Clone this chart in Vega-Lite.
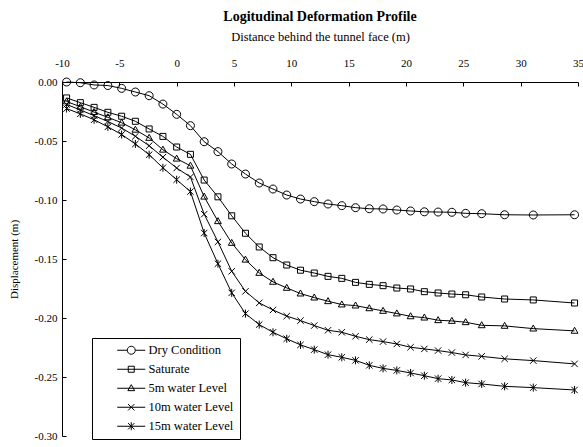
{
  "$schema": "https://vega.github.io/schema/vega-lite/v6.json",
  "width": 516,
  "height": 354,
  "autosize": "none",
  "padding": {"left": 62, "top": 82, "right": 5, "bottom": 11},
  "background": "white",
  "config": {"view": {"stroke": null}, "font": "Liberation Serif", "legend": {"labelFont": "Liberation Serif", "labelFontSize": 12.5, "labelColor": "black"}},
  "title": {"text": "Logitudinal Deformation Profile", "font": "Liberation Serif", "fontSize": 14, "fontWeight": "bold", "color": "black", "offset": 6},
  "datasets": {
    "ldp": [
      {"series": "Dry Condition", "distance": -9.6, "displacement": 0.0},
      {"series": "Dry Condition", "distance": -8.4, "displacement": -0.0006},
      {"series": "Dry Condition", "distance": -7.2, "displacement": -0.0025},
      {"series": "Dry Condition", "distance": -6.0, "displacement": -0.003},
      {"series": "Dry Condition", "distance": -4.8, "displacement": -0.0054},
      {"series": "Dry Condition", "distance": -3.6, "displacement": -0.0085},
      {"series": "Dry Condition", "distance": -2.4, "displacement": -0.0116},
      {"series": "Dry Condition", "distance": -1.2, "displacement": -0.0187},
      {"series": "Dry Condition", "distance": 0.0, "displacement": -0.0274},
      {"series": "Dry Condition", "distance": 1.2, "displacement": -0.037},
      {"series": "Dry Condition", "distance": 2.4, "displacement": -0.0506},
      {"series": "Dry Condition", "distance": 3.6, "displacement": -0.059},
      {"series": "Dry Condition", "distance": 4.8, "displacement": -0.0695},
      {"series": "Dry Condition", "distance": 6.0, "displacement": -0.078},
      {"series": "Dry Condition", "distance": 7.2, "displacement": -0.0856},
      {"series": "Dry Condition", "distance": 8.4, "displacement": -0.0907},
      {"series": "Dry Condition", "distance": 9.6, "displacement": -0.0958},
      {"series": "Dry Condition", "distance": 10.8, "displacement": -0.0992},
      {"series": "Dry Condition", "distance": 12.0, "displacement": -0.1014},
      {"series": "Dry Condition", "distance": 13.2, "displacement": -0.1034},
      {"series": "Dry Condition", "distance": 14.4, "displacement": -0.1048},
      {"series": "Dry Condition", "distance": 15.6, "displacement": -0.1065},
      {"series": "Dry Condition", "distance": 16.8, "displacement": -0.1074},
      {"series": "Dry Condition", "distance": 18.0, "displacement": -0.1076},
      {"series": "Dry Condition", "distance": 19.2, "displacement": -0.1085},
      {"series": "Dry Condition", "distance": 20.4, "displacement": -0.1093},
      {"series": "Dry Condition", "distance": 21.6, "displacement": -0.11},
      {"series": "Dry Condition", "distance": 22.8, "displacement": -0.1102},
      {"series": "Dry Condition", "distance": 24.0, "displacement": -0.1104},
      {"series": "Dry Condition", "distance": 25.2, "displacement": -0.1113},
      {"series": "Dry Condition", "distance": 26.6, "displacement": -0.1116},
      {"series": "Dry Condition", "distance": 28.6, "displacement": -0.1125},
      {"series": "Dry Condition", "distance": 31.1, "displacement": -0.1127},
      {"series": "Dry Condition", "distance": 34.7, "displacement": -0.1125},
      {"series": "Saturate", "distance": -9.6, "displacement": -0.0135},
      {"series": "Saturate", "distance": -8.4, "displacement": -0.0175},
      {"series": "Saturate", "distance": -7.2, "displacement": -0.0215},
      {"series": "Saturate", "distance": -6.0, "displacement": -0.0257},
      {"series": "Saturate", "distance": -4.8, "displacement": -0.029},
      {"series": "Saturate", "distance": -3.6, "displacement": -0.0333},
      {"series": "Saturate", "distance": -2.4, "displacement": -0.0398},
      {"series": "Saturate", "distance": -1.2, "displacement": -0.0461},
      {"series": "Saturate", "distance": 0.0, "displacement": -0.0551},
      {"series": "Saturate", "distance": 1.2, "displacement": -0.0613},
      {"series": "Saturate", "distance": 2.4, "displacement": -0.0831},
      {"series": "Saturate", "distance": 3.6, "displacement": -0.0973},
      {"series": "Saturate", "distance": 4.8, "displacement": -0.1134},
      {"series": "Saturate", "distance": 6.0, "displacement": -0.1282},
      {"series": "Saturate", "distance": 7.2, "displacement": -0.1398},
      {"series": "Saturate", "distance": 8.4, "displacement": -0.1489},
      {"series": "Saturate", "distance": 9.6, "displacement": -0.1551},
      {"series": "Saturate", "distance": 10.8, "displacement": -0.1595},
      {"series": "Saturate", "distance": 12.0, "displacement": -0.1619},
      {"series": "Saturate", "distance": 13.2, "displacement": -0.1647},
      {"series": "Saturate", "distance": 14.4, "displacement": -0.1664},
      {"series": "Saturate", "distance": 15.6, "displacement": -0.1698},
      {"series": "Saturate", "distance": 16.8, "displacement": -0.1715},
      {"series": "Saturate", "distance": 18.0, "displacement": -0.1726},
      {"series": "Saturate", "distance": 19.2, "displacement": -0.1746},
      {"series": "Saturate", "distance": 20.4, "displacement": -0.1754},
      {"series": "Saturate", "distance": 21.6, "displacement": -0.1777},
      {"series": "Saturate", "distance": 22.8, "displacement": -0.1788},
      {"series": "Saturate", "distance": 24.0, "displacement": -0.1797},
      {"series": "Saturate", "distance": 25.2, "displacement": -0.1803},
      {"series": "Saturate", "distance": 26.6, "displacement": -0.1822},
      {"series": "Saturate", "distance": 28.6, "displacement": -0.1839},
      {"series": "Saturate", "distance": 31.1, "displacement": -0.1847},
      {"series": "Saturate", "distance": 34.7, "displacement": -0.1873},
      {"series": "5m water Level", "distance": -9.6, "displacement": -0.0165},
      {"series": "5m water Level", "distance": -8.4, "displacement": -0.021},
      {"series": "5m water Level", "distance": -7.2, "displacement": -0.0255},
      {"series": "5m water Level", "distance": -6.0, "displacement": -0.03},
      {"series": "5m water Level", "distance": -4.8, "displacement": -0.0345},
      {"series": "5m water Level", "distance": -3.6, "displacement": -0.0405},
      {"series": "5m water Level", "distance": -2.4, "displacement": -0.0474},
      {"series": "5m water Level", "distance": -1.2, "displacement": -0.0574},
      {"series": "5m water Level", "distance": 0.0, "displacement": -0.065},
      {"series": "5m water Level", "distance": 1.2, "displacement": -0.071},
      {"series": "5m water Level", "distance": 2.4, "displacement": -0.0972},
      {"series": "5m water Level", "distance": 3.6, "displacement": -0.118},
      {"series": "5m water Level", "distance": 4.8, "displacement": -0.1364},
      {"series": "5m water Level", "distance": 6.0, "displacement": -0.1506},
      {"series": "5m water Level", "distance": 7.2, "displacement": -0.1618},
      {"series": "5m water Level", "distance": 8.4, "displacement": -0.1694},
      {"series": "5m water Level", "distance": 9.6, "displacement": -0.1745},
      {"series": "5m water Level", "distance": 10.8, "displacement": -0.1793},
      {"series": "5m water Level", "distance": 12.0, "displacement": -0.1827},
      {"series": "5m water Level", "distance": 13.2, "displacement": -0.1858},
      {"series": "5m water Level", "distance": 14.4, "displacement": -0.1886},
      {"series": "5m water Level", "distance": 15.6, "displacement": -0.1895},
      {"series": "5m water Level", "distance": 16.8, "displacement": -0.1918},
      {"series": "5m water Level", "distance": 18.0, "displacement": -0.194},
      {"series": "5m water Level", "distance": 19.2, "displacement": -0.1962},
      {"series": "5m water Level", "distance": 20.4, "displacement": -0.1986},
      {"series": "5m water Level", "distance": 21.6, "displacement": -0.1997},
      {"series": "5m water Level", "distance": 22.8, "displacement": -0.2019},
      {"series": "5m water Level", "distance": 24.0, "displacement": -0.2025},
      {"series": "5m water Level", "distance": 25.2, "displacement": -0.2036},
      {"series": "5m water Level", "distance": 26.6, "displacement": -0.2062},
      {"series": "5m water Level", "distance": 28.6, "displacement": -0.2067},
      {"series": "5m water Level", "distance": 31.1, "displacement": -0.209},
      {"series": "5m water Level", "distance": 34.7, "displacement": -0.2109},
      {"series": "10m water Level", "distance": -9.6, "displacement": -0.019},
      {"series": "10m water Level", "distance": -8.4, "displacement": -0.0237},
      {"series": "10m water Level", "distance": -7.2, "displacement": -0.0285},
      {"series": "10m water Level", "distance": -6.0, "displacement": -0.0335},
      {"series": "10m water Level", "distance": -4.8, "displacement": -0.039},
      {"series": "10m water Level", "distance": -3.6, "displacement": -0.046},
      {"series": "10m water Level", "distance": -2.4, "displacement": -0.054},
      {"series": "10m water Level", "distance": -1.2, "displacement": -0.0637},
      {"series": "10m water Level", "distance": 0.0, "displacement": -0.0729},
      {"series": "10m water Level", "distance": 1.2, "displacement": -0.0805},
      {"series": "10m water Level", "distance": 2.4, "displacement": -0.112},
      {"series": "10m water Level", "distance": 3.6, "displacement": -0.1355},
      {"series": "10m water Level", "distance": 4.8, "displacement": -0.1604},
      {"series": "10m water Level", "distance": 6.0, "displacement": -0.1774},
      {"series": "10m water Level", "distance": 7.2, "displacement": -0.1872},
      {"series": "10m water Level", "distance": 8.4, "displacement": -0.1932},
      {"series": "10m water Level", "distance": 9.6, "displacement": -0.1984},
      {"series": "10m water Level", "distance": 10.8, "displacement": -0.2022},
      {"series": "10m water Level", "distance": 12.0, "displacement": -0.2064},
      {"series": "10m water Level", "distance": 13.2, "displacement": -0.2104},
      {"series": "10m water Level", "distance": 14.4, "displacement": -0.2121},
      {"series": "10m water Level", "distance": 15.6, "displacement": -0.2155},
      {"series": "10m water Level", "distance": 16.8, "displacement": -0.2183},
      {"series": "10m water Level", "distance": 18.0, "displacement": -0.22},
      {"series": "10m water Level", "distance": 19.2, "displacement": -0.222},
      {"series": "10m water Level", "distance": 20.4, "displacement": -0.2248},
      {"series": "10m water Level", "distance": 21.6, "displacement": -0.2262},
      {"series": "10m water Level", "distance": 22.8, "displacement": -0.2276},
      {"series": "10m water Level", "distance": 24.0, "displacement": -0.2293},
      {"series": "10m water Level", "distance": 25.2, "displacement": -0.2313},
      {"series": "10m water Level", "distance": 26.6, "displacement": -0.2325},
      {"series": "10m water Level", "distance": 28.6, "displacement": -0.2346},
      {"series": "10m water Level", "distance": 31.1, "displacement": -0.2361},
      {"series": "10m water Level", "distance": 34.7, "displacement": -0.2389},
      {"series": "15m water Level", "distance": -9.6, "displacement": -0.0225},
      {"series": "15m water Level", "distance": -8.4, "displacement": -0.027},
      {"series": "15m water Level", "distance": -7.2, "displacement": -0.032},
      {"series": "15m water Level", "distance": -6.0, "displacement": -0.038},
      {"series": "15m water Level", "distance": -4.8, "displacement": -0.0445},
      {"series": "15m water Level", "distance": -3.6, "displacement": -0.0525},
      {"series": "15m water Level", "distance": -2.4, "displacement": -0.0616},
      {"series": "15m water Level", "distance": -1.2, "displacement": -0.0727},
      {"series": "15m water Level", "distance": 0.0, "displacement": -0.0828},
      {"series": "15m water Level", "distance": 1.2, "displacement": -0.0929},
      {"series": "15m water Level", "distance": 2.4, "displacement": -0.128},
      {"series": "15m water Level", "distance": 3.6, "displacement": -0.154},
      {"series": "15m water Level", "distance": 4.8, "displacement": -0.1787},
      {"series": "15m water Level", "distance": 6.0, "displacement": -0.1963},
      {"series": "15m water Level", "distance": 7.2, "displacement": -0.2056},
      {"series": "15m water Level", "distance": 8.4, "displacement": -0.2121},
      {"series": "15m water Level", "distance": 9.6, "displacement": -0.2176},
      {"series": "15m water Level", "distance": 10.8, "displacement": -0.2228},
      {"series": "15m water Level", "distance": 12.0, "displacement": -0.2268},
      {"series": "15m water Level", "distance": 13.2, "displacement": -0.2311},
      {"series": "15m water Level", "distance": 14.4, "displacement": -0.2333},
      {"series": "15m water Level", "distance": 15.6, "displacement": -0.2359},
      {"series": "15m water Level", "distance": 16.8, "displacement": -0.2401},
      {"series": "15m water Level", "distance": 18.0, "displacement": -0.2427},
      {"series": "15m water Level", "distance": 19.2, "displacement": -0.2444},
      {"series": "15m water Level", "distance": 20.4, "displacement": -0.2466},
      {"series": "15m water Level", "distance": 21.6, "displacement": -0.2489},
      {"series": "15m water Level", "distance": 22.8, "displacement": -0.2514},
      {"series": "15m water Level", "distance": 24.0, "displacement": -0.2525},
      {"series": "15m water Level", "distance": 25.2, "displacement": -0.2548},
      {"series": "15m water Level", "distance": 26.6, "displacement": -0.2559},
      {"series": "15m water Level", "distance": 28.6, "displacement": -0.2579},
      {"series": "15m water Level", "distance": 31.1, "displacement": -0.259},
      {"series": "15m water Level", "distance": 34.7, "displacement": -0.261}
    ]
  },
  "data": {"name": "ldp"},
  "encoding": {
    "x": {
      "field": "distance",
      "type": "quantitative",
      "scale": {"domain": [-10, 35], "nice": false, "zero": false},
      "axis": {
        "orient": "top",
        "values": [-10, -5, 0, 5, 10, 15, 20, 25, 30, 35],
        "title": "Distance behind the tunnel face (m)",
        "grid": false,
        "tickSize": -4,
        "labelPadding": 18,
        "labelFont": "Liberation Serif",
        "labelFontSize": 11,
        "labelColor": "black",
        "labelFlush": false,
        "labelExpr": "replace(datum.label, '\u2212', '-')",
        "titleFont": "Liberation Serif",
        "titleFontSize": 12.5,
        "titleFontWeight": "normal",
        "titleColor": "black",
        "titlePadding": 14,
        "domainColor": "black",
        "tickColor": "black"
      }
    },
    "y": {
      "field": "displacement",
      "type": "quantitative",
      "scale": {"domain": [-0.3, 0], "nice": false, "zero": false},
      "axis": {
        "values": [0, -0.05, -0.1, -0.15, -0.2, -0.25, -0.3],
        "format": ".2f",
        "title": "Displacement (m)",
        "grid": false,
        "tickSize": -4,
        "labelPadding": 9,
        "labelFont": "Liberation Serif",
        "labelFontSize": 11,
        "labelColor": "black",
        "labelFlush": false,
        "labelExpr": "replace(datum.label, '\u2212', '-')",
        "titleFont": "Liberation Serif",
        "titleFontSize": 11,
        "titleFontWeight": "normal",
        "titleColor": "black",
        "titlePadding": 15,
        "domainColor": "black",
        "tickColor": "black"
      }
    }
  },
  "layer": [
    {
      "mark": {"type": "line", "color": "black", "strokeWidth": 1},
      "encoding": {"detail": {"field": "series", "type": "nominal"}}
    },
    {
      "mark": {"type": "point", "filled": false, "color": "black", "strokeWidth": 1, "size": 64, "opacity": 1},
      "encoding": {
        "shape": {
          "field": "series",
          "type": "nominal",
          "scale": {
            "domain": ["Dry Condition", "Saturate", "5m water Level", "10m water Level", "15m water Level"],
            "range": [
              "M1,0A1,1 0 1,1 -1,0A1,1 0 1,1 1,0Z",
              "M-0.75,-0.75H0.75V0.75H-0.75Z",
              "M0,-0.9L0.85,0.6H-0.85Z",
              "M-0.8,-0.8L0.8,0.8M-0.8,0.8L0.8,-0.8",
              "M-0.8,-0.8L0.8,0.8M-0.8,0.8L0.8,-0.8M0,-1L0,1"
            ]
          },
          "legend": null
        }
      }
    },
    {
      "mark": {"type": "point", "filled": false, "color": "black", "strokeWidth": 1, "size": 64, "opacity": 0},
      "encoding": {
        "shape": {
          "field": "series",
          "type": "nominal",
          "scale": {
            "domain": ["Dry Condition", "Saturate", "5m water Level", "10m water Level", "15m water Level"],
            "range": [
              "M-3.5,0H-1M1,0H3.5M1,0A1,1 0 1,1 -1,0A1,1 0 1,1 1,0Z",
              "M-3.5,0H3.5M-0.75,-0.75H0.75V0.75H-0.75Z",
              "M-3.5,0H3.5M0,-0.9L0.85,0.6H-0.85Z",
              "M-3.5,0H3.5M-0.8,-0.8L0.8,0.8M-0.8,0.8L0.8,-0.8",
              "M-3.5,0H3.5M-0.8,-0.8L0.8,0.8M-0.8,0.8L0.8,-0.8M0,-1L0,1"
            ]
          },
          "legend": {
            "title": null,
            "orient": "none",
            "legendX": 30,
            "legendY": 256,
            "padding": 6,
            "strokeColor": "black",
            "fillColor": "white",
            "symbolSize": 64,
            "symbolOpacity": 1,
            "symbolStrokeColor": "black",
            "symbolFillColor": "transparent",
            "symbolStrokeWidth": 1,
            "symbolOffset": 27,
            "labelOffset": 11,
            "labelFont": "Liberation Serif",
            "labelFontSize": 12.5,
            "labelColor": "black",
            "rowPadding": 6,
            "encode": {
              "labels": {"update": {"font": {"value": "Liberation Serif"}, "fontSize": {"value": 12.5}, "fill": {"value": "black"}}}
            }
          }
        }
      }
    }
  ],
  "resolve": {"scale": {"shape": "independent"}}
}
